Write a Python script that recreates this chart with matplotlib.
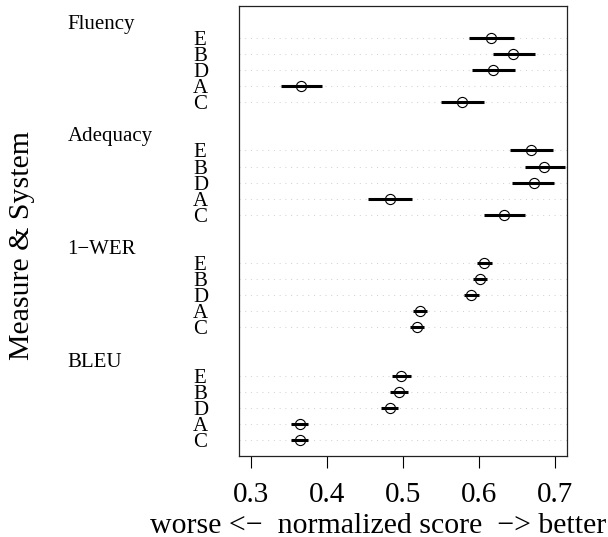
import matplotlib
matplotlib.use("Agg")
import matplotlib.pyplot as plt
from matplotlib.transforms import blended_transform_factory

# measures from top to bottom, systems inside each block from top to bottom
measures = ["Fluency", "Adequacy", "1\u2212WER", "BLEU"]
systems = ["E", "B", "D", "A", "C"]

fluency = [0.616, 0.645, 0.619, 0.366, 0.578]
fluency_lo = [0.587, 0.618, 0.591, 0.339, 0.550]
fluency_hi = [0.646, 0.674, 0.648, 0.394, 0.606]

adequacy = [0.668, 0.686, 0.672, 0.483, 0.633]
adequacy_lo = [0.641, 0.660, 0.644, 0.454, 0.607]
adequacy_hi = [0.697, 0.713, 0.699, 0.512, 0.660]

wer = [0.607, 0.601, 0.590, 0.522, 0.518]
wer_lo = [0.597, 0.592, 0.580, 0.513, 0.509]
wer_hi = [0.617, 0.611, 0.600, 0.532, 0.528]

bleu = [0.498, 0.495, 0.483, 0.364, 0.364]
bleu_lo = [0.486, 0.483, 0.471, 0.352, 0.352]
bleu_hi = [0.511, 0.507, 0.494, 0.375, 0.375]

scores = [fluency, adequacy, wer, bleu]
lows = [fluency_lo, adequacy_lo, wer_lo, bleu_lo]
highs = [fluency_hi, adequacy_hi, wer_hi, bleu_hi]

xticks = [0.3, 0.4, 0.5, 0.6, 0.7]

plt.rcParams['font.family'] = ['Liberation Serif', 'DejaVu Serif']

fig = plt.figure(figsize=(6.08, 5.37), dpi=100)
ax = fig.add_axes([0.3931, 0.1508, 0.5395, 0.8386])

nsys = len(systems)
trans = blended_transform_factory(fig.transFigure, ax.transData)

# dotchart style: bottom block first, one label line + one gap line between blocks
ypos = 1
for g in range(len(measures) - 1, -1, -1):
    for i in range(nsys - 1, -1, -1):
        ax.axhline(ypos, color='lightgray', lw=0.75, ls=(0, (1, 4.5)), zorder=1)
        ax.plot([lows[g][i], highs[g][i]], [ypos, ypos], color='black', lw=2.2,
                solid_capstyle='butt', zorder=2)
        ax.plot(scores[g][i], ypos, 'o', mfc='none', mec='black', ms=7.3, mew=0.8, zorder=3)
        ax.text(0.3174, ypos, systems[i], transform=trans, ha='left',
                va='center_baseline', fontsize=15, clip_on=False)
        ypos += 1
    ax.text(0.111, ypos, measures[g], transform=trans, ha='left',
            va='center_baseline', fontsize=15, clip_on=False)
    ypos += 2

ax.set_xlim(0.2842, 0.7158)
ax.set_ylim(0, ypos - 1)
ax.set_yticks([])
ax.set_xticks(xticks)
ax.set_xticklabels([str(t) for t in xticks])
ax.tick_params(axis='x', length=8.5, width=0.8, pad=10.5, labelsize=21)
for s in ax.spines.values():
    s.set_linewidth(0.9)
    s.set_color('#222222')

fig.text(0.6217, 0.0074, "worse <\u2212  normalized score  \u2212> better",
         ha='center', va='baseline', fontsize=21.5)
fig.text(0.037, 0.542, "Measure & System", rotation=90, ha='center', va='center',
         fontsize=21.5)

fig.savefig("out.png", dpi=100)
